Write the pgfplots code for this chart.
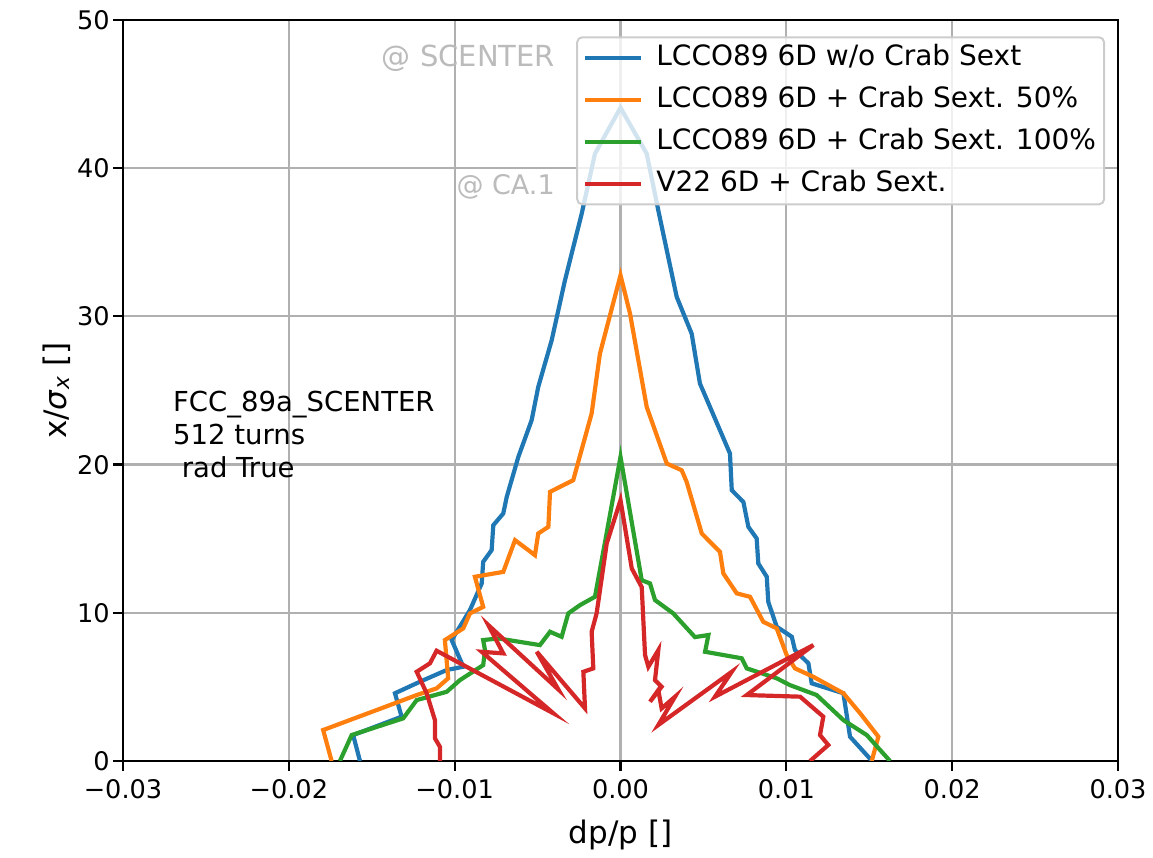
\documentclass[border=0pt]{standalone}
\usepackage{pgfplots}
\pgfplotsset{compat=1.18}
\usepackage{fontspec}
\setmainfont{DejaVu Sans}
\definecolor{tabblue}{HTML}{1F77B4}
\definecolor{taborange}{HTML}{FF7F0E}
\definecolor{tabgreen}{HTML}{2CA02C}
\definecolor{tabred}{HTML}{D62728}
\definecolor{gridgray}{HTML}{B0B0B0}
\definecolor{anngray}{HTML}{BBBBBB}
\definecolor{legedge}{HTML}{CCCCCC}

\pgfplotstableread{
x y
-0.01571 0
-0.01612 1.75
-0.01320 2.99
-0.01360 4.57
-0.01209 5.35
-0.01048 6.14
-0.00948 6.36
-0.01018 8.16
-0.00908 10.18
-0.00837 11.98
-0.00828 13.44
-0.00777 14.23
-0.00767 15.91
-0.00707 16.70
-0.00686 17.82
-0.00616 20.52
-0.00536 22.99
-0.00496 25.24
-0.00415 28.39
-0.00335 32.43
-0.00234 36.93
-0.00154 40.98
0.00000 44.08
0.00158 40.98
0.00228 37.15
0.00339 31.31
0.00429 28.84
0.00479 25.47
0.00660 20.75
0.00671 18.27
0.00741 17.48
0.00771 15.80
0.00821 15.02
0.00831 13.33
0.00882 12.43
0.00891 10.74
0.00942 9.06
0.01033 8.38
0.01052 7.48
0.01133 6.59
0.01153 5.24
0.01344 4.57
0.01384 1.64
0.01517 0
}\blue

\pgfplotstableread{
x y
-0.01742 0
-0.01793 2.09
-0.01470 3.44
-0.01229 4.45
-0.01109 4.90
-0.01039 5.58
-0.01059 8.16
-0.00948 8.95
-0.00908 9.96
-0.00828 10.40
-0.00878 12.43
-0.00707 12.76
-0.00636 14.90
-0.00516 13.89
-0.00496 15.35
-0.00435 15.80
-0.00425 18.16
-0.00285 18.95
-0.00174 23.45
-0.00124 27.49
0.00000 32.77
0.00057 30.21
0.00158 23.89
0.00279 20.07
0.00369 19.62
0.00399 18.83
0.00490 15.35
0.00600 14.11
0.00620 12.66
0.00701 11.31
0.00781 11.08
0.00861 9.39
0.00942 8.95
0.01002 7.15
0.01052 6.25
0.01163 5.68
0.01344 4.57
0.01445 3.22
0.01555 1.64
0.01515 0
}\orange

\pgfplotstableread{
x y
-0.01692 0
-0.01621 1.75
-0.01310 2.88
-0.01229 4.11
-0.01048 4.67
-0.00968 5.46
-0.00828 6.47
-0.00817 7.48
-0.00828 8.16
-0.00737 8.27
-0.00486 7.82
-0.00425 8.72
-0.00355 8.38
-0.00315 9.96
-0.00244 10.52
-0.00154 11.08
-0.00093 14.79
0.00000 20.52
0.00128 12.20
0.00178 11.98
0.00208 10.86
0.00318 9.96
0.00449 8.36
0.00530 8.50
0.00510 7.37
0.00731 6.93
0.00761 6.25
0.00942 5.58
0.01022 5.12
0.01183 4.45
0.01344 2.76
0.01485 1.75
0.01625 0
}\green

\pgfplotstableread{
x y
-0.01089 0
-0.01089 0.96
-0.01119 1.53
-0.01119 2.76
-0.01169 4.57
-0.01229 6.02
-0.01149 6.59
-0.01109 7.44
-0.00405 3.22
-0.00837 7.37
-0.00707 7.26
-0.00797 9.17
-0.00375 4.83
-0.00505 7.37
-0.00214 3.55
-0.00224 6.02
-0.00164 6.25
-0.00174 8.72
-0.00144 9.96
-0.00083 14.68
0.00000 17.60
0.00068 12.99
0.00128 11.73
0.00148 7.15
0.00168 6.36
0.00228 7.48
0.00208 5.46
0.00248 5.01
0.00178 4.00
0.00228 4.79
0.00248 3.55
0.00329 4.34
0.00228 2.43
0.00671 6.02
0.00570 4.34
0.01163 7.82
0.00761 4.45
0.01083 4.34
0.01223 2.99
0.01203 1.75
0.01253 1.08
0.01143 0
}\red

\begin{document}
\begin{tikzpicture}
\begin{axis}[
  width=995pt, height=741pt, scale only axis,
  xmin=-0.03, xmax=0.03, ymin=0, ymax=50,
  xtick={-0.03,-0.02,-0.01,0,0.01,0.02,0.03},
  xticklabels={−0.03,−0.02,−0.01,0.00,0.01,0.02,0.03},
  ytick={0,10,20,30,40,50},
  yticklabels={0,10,20,30,40,50},
  scaled x ticks=false, scaled y ticks=false,
  tick align=outside, tick pos=left,
  major tick length=9.7pt,
  every tick/.style={black, line width=2.2pt},
  axis line style={line width=2.2pt},
  grid=major,
  major grid style={color=gridgray, line width=2.2pt},
  tick label style={font=\fontsize{25.6}{30}\selectfont, inner ysep=0pt},
  xticklabel style={text depth=0pt, yshift=-8.5pt},
  yticklabel style={text depth=0pt},
  xlabel={dp/p []},
  ylabel={x/\textit{σ}\textsubscript{\textit{x}} []},
  label style={font=\fontsize{31}{36}\selectfont},
  xlabel style={at={(axis description cs:0.5,0)}, anchor=north, inner sep=0pt, yshift=-59pt},
  legend cell align=left,
  legend style={
    at={(rel axis cs:0.987,0.978)}, anchor=north east,
    draw=legedge, line width=2pt, rounded corners=5pt,
    fill=white, fill opacity=0.8, text opacity=1, draw opacity=1,
    font=\fontsize{28}{28}\selectfont,
    inner xsep=6pt, inner ysep=5pt, row sep=11pt,
    nodes={inner sep=2pt, text height=21pt, text depth=6pt},
    /tikz/every odd column/.append style={column sep=11pt},
  },
  legend image code/.code={\draw[#1, line width=4.2pt] (0pt,0pt) -- (56pt,0pt);},
]
\addplot[tabblue, line width=4.2pt] table[x=x,y=y] {\blue};
\addlegendentry{LCCO89 6D w/o Crab Sext}
\addplot[taborange, line width=4.2pt] table[x=x,y=y] {\orange};
\addlegendentry{LCCO89 6D + Crab Sext. 50\%}
\addplot[tabgreen, line width=4.2pt] table[x=x,y=y] {\green};
\addlegendentry{LCCO89 6D + Crab Sext. 100\%}
\addplot[tabred, line width=4.2pt] table[x=x,y=y] {\red};
\addlegendentry{V22 6D + Crab Sext.}
\node[anchor=west, text=anngray, inner sep=0pt, font=\fontsize{29}{29}\selectfont] at (axis cs:-0.01440,47.4) {@ SCENTER};
\node[anchor=west, text=anngray, inner sep=0pt, font=\fontsize{27}{27}\selectfont] at (axis cs:-0.00990,38.77) {@ CA.1};
\node[anchor=north west, align=left, inner sep=0pt, font=\fontsize{27.5}{33}\selectfont] at (axis cs:-0.02699,25.0) {FCC\_89a\_SCENTER\\512 turns\\\ rad True};
\end{axis}
\pgfresetboundingbox
\path (current axis.south west) ++(-123pt,-97pt) rectangle ++(1153pt,858pt);
\end{tikzpicture}
\end{document}
